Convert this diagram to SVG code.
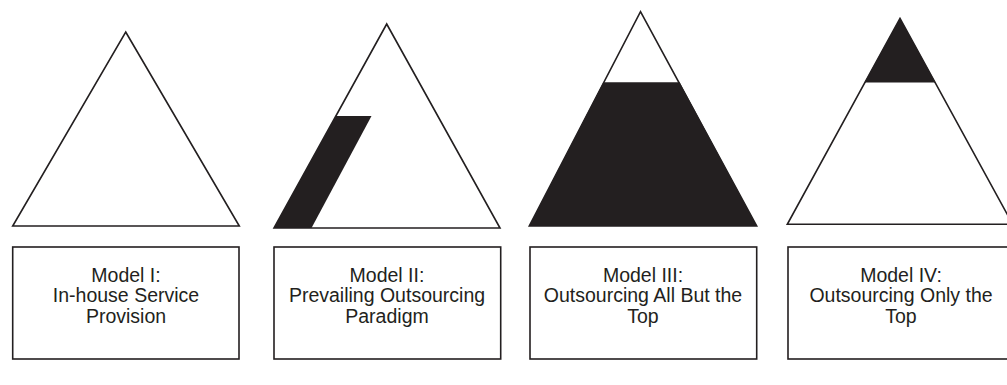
<svg xmlns="http://www.w3.org/2000/svg" width="1007" height="385" viewBox="0 0 1007 385">
<style>
.tri{fill:none;stroke:#231f20;stroke-width:1.6;stroke-linejoin:miter}
.blk{fill:#231f20;stroke:none}
.box{fill:#fff;stroke:#231f20;stroke-width:1.6}
.lbl{font-family:"Liberation Sans",Arial,sans-serif;font-size:19.5px;fill:#231f20;text-anchor:middle}
</style>
<rect width="1007" height="385" fill="#fff"/>
<g id="model1">
<polygon class="tri" points="125.7,32 239.3,226 12.7,226"/>
<rect class="box" x="12.7" y="247" width="226.3" height="112"/>
<text class="lbl" x="126" y="281.5">Model I:</text>
<text class="lbl" x="126" y="302">In-house Service</text>
<text class="lbl" x="126" y="322.5">Provision</text>
</g>
<g id="model2">
<polygon class="blk" points="274,228 311.5,228 371.5,116 336,116"/>
<polygon class="tri" points="386.7,24 500,228 274,228"/>
<rect class="box" x="274" y="247" width="226.7" height="112"/>
<text class="lbl" x="387" y="281.5">Model II:</text>
<text class="lbl" x="387" y="302">Prevailing Outsourcing</text>
<text class="lbl" x="387" y="322.5">Paradigm</text>
</g>
<g id="model3">
<polygon class="blk" points="529.3,226 756.7,226 679.6,82.3 603.4,82.3"/>
<polygon class="tri" points="640.5,11.7 756.7,226 529.3,226"/>
<rect class="box" x="530" y="247" width="226.7" height="112"/>
<text class="lbl" x="643" y="281.5">Model III:</text>
<text class="lbl" x="643" y="302">Outsourcing All But the</text>
<text class="lbl" x="643" y="322.5">Top</text>
</g>
<g id="model4">
<polygon class="blk" points="900,18.3 935.5,82.5 864.5,82.5"/>
<polygon class="tri" points="900,18.3 1012.7,224.3 787.3,224.3"/>
<rect class="box" x="788" y="247" width="226.7" height="112"/>
<text class="lbl" x="901" y="281.5">Model IV:</text>
<text class="lbl" x="901" y="302">Outsourcing Only the</text>
<text class="lbl" x="901" y="322.5">Top</text>
</g>
<g id="connectors"></g>
</svg>
